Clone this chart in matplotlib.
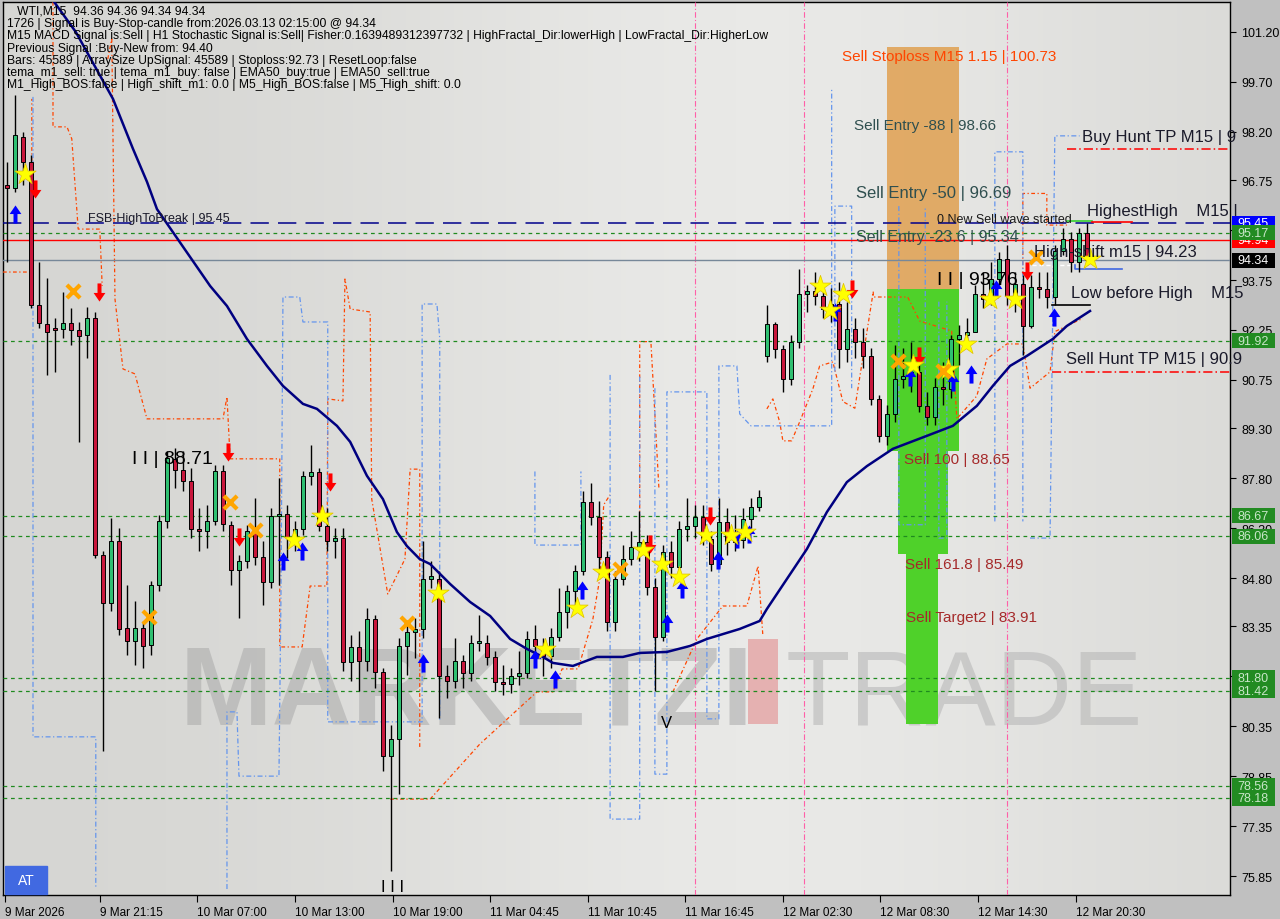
import numpy as np
import matplotlib
matplotlib.use("Agg")
import matplotlib.pyplot as plt
import matplotlib.transforms as mtransforms
from matplotlib.path import Path
from matplotlib.patches import Rectangle

# ---------------- data ----------------
# M15 candles (each entry = one drawn candle)
c_open = [96.6, 96.5, 98.05, 97.3, 93.0, 92.43, 92.3, 92.28, 92.45, 92.25, 92.1, 92.6, 85.5, 84.05, 85.9, 83.3,
          82.9, 83.3, 82.8, 84.6, 86.5, 88.38, 88.05, 87.7, 86.27, 86.2, 86.5, 88.0, 86.4, 85.05, 85.3, 86.2,
          85.43, 84.68, 86.66, 86.72, 86.03, 86.27, 87.86, 87.98, 86.36, 85.91, 86.0, 82.28, 82.73, 82.31, 83.57, 81.98,
          79.45, 79.96, 82.76, 83.18, 83.27, 84.77, 84.77, 81.86, 81.7, 82.31, 81.95, 82.85, 82.85, 82.43, 81.68, 81.62,
          81.86, 81.95, 82.97, 82.76, 82.46, 83.03, 83.78, 84.41, 85.01, 87.08, 86.63, 85.43, 83.48, 84.77, 85.37, 85.73,
          85.88, 84.53, 83.03, 85.58, 85.13, 86.27, 86.36, 86.63, 85.97, 85.22, 86.48, 85.88, 85.95, 86.57, 86.93, 91.47,
          92.43, 91.68, 90.78, 91.89, 93.33, 93.42, 93.27, 92.88, 93.03, 91.68, 92.28, 91.9, 91.47, 90.18, 89.07, 89.73,
          90.78, 90.87, 91.0, 89.97, 89.64, 90.54, 90.48, 91.98, 92.1, 92.2, 93.33, 93.18, 93.78, 94.38, 93.27, 93.63,
          92.37, 93.54, 93.48, 93.24, 94.62, 94.98, 94.3, 95.15]
c_high = [97.3, 99.3, 98.2, 97.5, 94.3, 93.8, 92.6, 93.4, 92.9, 92.5, 92.95, 92.8, 85.6, 86.6, 86.3, 84.6,
          84.1, 83.5, 84.7, 86.7, 88.6, 88.71, 88.6, 88.1, 86.9, 87.0, 88.2, 88.2, 86.5, 85.5, 86.4, 87.2,
          85.9, 86.9, 87.8, 87.0, 86.5, 88.0, 88.8, 88.1, 86.9, 86.3, 86.3, 83.1, 83.2, 83.9, 83.7, 82.1,
          80.4, 83.0, 83.5, 83.6, 85.9, 85.3, 85.0, 82.2, 83.0, 82.5, 83.1, 83.7, 83.1, 82.6, 82.2, 82.1,
          82.6, 83.2, 83.4, 83.0, 83.3, 84.5, 84.6, 85.2, 87.4, 87.65, 87.1, 85.6, 85.0, 85.8, 86.2, 86.8,
          86.1, 84.8, 85.8, 85.9, 86.5, 87.2, 87.0, 87.0, 86.2, 87.2, 86.9, 86.7, 86.9, 87.2, 87.45, 93.0,
          92.5, 91.8, 92.1, 94.08, 93.6, 94.0, 93.4, 93.5, 93.7, 93.1, 92.6, 92.3, 91.7, 90.3, 90.0, 91.8,
          91.7, 91.9, 91.2, 90.4, 90.8, 91.3, 92.1, 92.4, 92.6, 93.6, 94.0, 94.3, 94.6, 94.8, 94.0, 93.9,
          93.9, 94.0, 94.0, 94.8, 95.3, 95.2, 95.3, 95.45]
c_low = [94.3, 96.4, 96.6, 92.9, 92.3, 90.9, 91.0, 92.0, 91.8, 88.9, 91.4, 85.4, 79.6, 83.8, 83.1, 82.5,
         82.2, 82.1, 82.5, 84.4, 86.3, 87.5, 87.4, 86.0, 85.6, 85.7, 86.4, 86.2, 84.6, 83.6, 85.1, 85.2,
         84.0, 84.5, 84.6, 85.4, 85.6, 86.1, 87.6, 86.2, 85.6, 85.4, 82.0, 81.7, 81.4, 82.0, 81.5, 79.0,
         76.0, 78.3, 81.9, 82.4, 83.0, 84.5, 80.6, 81.2, 81.5, 81.5, 81.7, 82.6, 82.2, 81.4, 81.3, 81.35,
         81.6, 81.8, 82.4, 81.85, 82.1, 82.9, 83.3, 83.8, 84.9, 86.4, 84.9, 83.2, 83.2, 84.6, 85.2, 85.3,
         84.3, 81.4, 82.9, 84.8, 84.8, 85.9, 86.0, 85.8, 85.0, 85.1, 85.5, 85.6, 85.7, 86.3, 86.8, 91.3,
         91.4, 90.4, 90.6, 91.7, 92.8, 93.0, 92.6, 92.5, 91.1, 91.3, 91.4, 91.1, 90.0, 88.9, 88.8, 89.5,
         90.5, 90.4, 89.8, 89.4, 89.4, 90.0, 90.2, 91.2, 91.8, 92.2, 92.9, 93.0, 93.6, 93.0, 92.8, 91.5,
         92.3, 93.2, 92.9, 93.0, 94.5, 94.0, 94.0, 94.2]
c_close = [96.5, 98.1, 97.3, 93.0, 92.45, 92.2, 92.25, 92.45, 92.25, 92.07, 92.6, 85.5, 84.05, 85.9, 83.27, 82.9,
           83.3, 82.75, 84.6, 86.5, 88.4, 88.05, 87.7, 86.27, 86.2, 86.5, 88.0, 86.42, 85.05, 85.3, 86.2, 85.43,
           84.68, 86.66, 86.72, 86.03, 86.27, 87.86, 87.98, 86.36, 85.91, 86.0, 82.28, 82.73, 82.31, 83.57, 81.98, 79.45,
           79.96, 82.76, 83.18, 83.27, 84.77, 84.85, 81.86, 81.7, 82.31, 81.95, 82.85, 82.9, 82.43, 81.68, 81.62, 81.86,
           81.95, 82.97, 82.76, 82.46, 83.03, 83.78, 84.41, 85.01, 87.08, 86.63, 85.43, 83.48, 84.77, 85.37, 85.73, 85.88,
           84.53, 83.03, 85.58, 85.13, 86.27, 86.36, 86.63, 85.97, 85.22, 86.48, 85.88, 85.95, 86.57, 86.93, 87.23, 92.43,
           91.68, 90.78, 91.89, 93.33, 93.42, 93.27, 92.88, 93.03, 91.68, 92.28, 91.9, 91.47, 90.18, 89.07, 89.73, 90.78,
           90.87, 91.0, 89.97, 89.64, 90.54, 90.48, 91.98, 92.1, 92.2, 93.33, 93.18, 93.78, 94.38, 93.27, 93.63, 92.37,
           93.54, 93.48, 93.24, 94.62, 94.98, 94.3, 95.15, 94.34]

# EMA50 (bar index, price)
ema_idx = [5, 8.6, 13.25, 15.75, 17.5, 18.75, 21.6, 25.4, 27.5, 30, 32.5, 34.5, 37, 38.75, 41.25, 42.9, 45, 47,
           48.75, 50, 51.6, 52.9, 55.4, 57.9, 60.4, 62.9, 65, 67, 68.25, 70.75, 73.75, 77, 79.1, 82.5, 85.4, 87.5,
           91.6, 94.1, 95, 97.5, 100, 102.5, 105, 107.5, 110.75, 115, 118.25, 121.25, 123.25, 125.4, 127.5, 130.75,
           132.5, 135.4]
ema_val = [102.4, 101.2, 99.19, 97.69, 96.7, 95.88, 94.89, 93.57, 92.97, 91.98, 91.17, 90.57, 90.03, 89.88, 89.37,
           88.89, 87.87, 87.17, 86.18, 85.76, 85.37, 85.22, 84.62, 84.08, 83.66, 82.97, 82.67, 82.43, 82.25, 82.16,
           82.43, 82.43, 82.55, 82.58, 82.76, 82.97, 83.27, 83.51, 83.87, 84.77, 85.67, 86.78, 87.68, 88.16, 88.68,
           89.07, 89.37, 89.97, 90.57, 91.17, 91.47, 91.98, 92.37, 92.82]

# fractal channel step lines (bar index, price), nan = break
orange_idx = [-0.5, 3.1, 3.1, np.nan,
              5.75, 5.75, 7.5, 8.1, 8.5, 8.9, 11.6, 11.9, np.nan,
              12.6, 13.1, 13.5, 14.5, 16, 17.5, 27, 27.5, 27.9, 34.1, 34.1, 36.9, 37.9, 40, 40.1, 42, 42.25, 42.9,
              45.4, 45.6, 47.6, 49.75, 50.4, 51.6, 51.6, np.nan,
              47.9, 52.9, 59.1, 66.25, 68.25, 69.4, 71.4, 73.25, 74.1, 74.6, 75.4, np.nan,
              79.1, 79.1, 80.5, 81.5, np.nan,
              83.25, 86.25, 89.5, 92.5, 93.9, 94.5, np.nan,
              95, 95.75, 96.6, 97, 98.1, 99.1, 100.75, 101.6, 103.25, 104.5, 106, 108.3, np.nan,
              108.3, 108.3, 112.6, 114.1, 118.1, 118.75, 121.25, 122.5, 125, 127, 127.9, 130.4, 131, 134.5, np.nan,
              127.0, 127.0, 130.0, 130.0, 132.5]
orange_val = [93.99, 93.99, 99.19, np.nan,
              102.1, 98.35, 98.35, 97.99, 96.63, 95.28, 95.28, 93.57, np.nan,
              100.39, 100.99, 93.18, 91.08, 90.93, 89.58, 89.58, 90.24, 88.38, 88.38, 82.73, 82.73, 84.56, 84.56, 90.18,
              90.12, 93.78, 92.88, 92.79, 87.17, 84.32, 85.37, 88.07, 88.07, 79.66, np.nan,
              78.16, 78.16, 79.81, 81.38, 81.38, 82.07, 82.07, 83.57, 84.77, 87.0, 87.3, np.nan,
              86.0, 91.9, 91.9, 87.5, np.nan,
              81.38, 82.97, 83.96, 83.96, 85.16, 83.06, np.nan,
              89.88, 90.18, 89.49, 88.92, 88.92, 89.49, 90.48, 91.17, 91.29, 90.1, 89.9, 93.4, np.nan,
              93.4, 93.24, 93.24, 92.52, 92.22, 89.58, 90.27, 91.38, 91.83, 91.83, 90.5, 90.99, 92.2, 92.6, np.nan,
              93.9, 96.35, 96.35, 95.4, 95.4]
blue_idx = [3.25, 3.25, 11.1, 11.1, np.nan,
            27.5, 27.5, 28.75, 29, 34, 34.25, 34.5, 36.6, 37, 40.1, 40.1, 51.9, 51.9, 53.75, 54.1, 54.1, np.nan,
            66, 66, 71.75, 71.75, np.nan,
            75.4, 75.4, 79.1, 79.1, np.nan,
            81, 81, 82.5, 82.5, 87.5, 87.5, 89, 89, 91.25, 91.6, 93, 103.1, 103.1, np.nan,
            103.5, 103.5, 105.6, 105.6, np.nan,
            111.5, 111.5, 114.8, 114.8, np.nan,
            116.5, 116.5, 117.5, 117.5, np.nan,
            123.5, 123.5, 127, 127, np.nan,
            127.9, 130.4, 131, 131, 134.1]
blue_val = [99.25, 80.03, 80.03, 75.46, np.nan,
            75.46, 80.78, 80.78, 78.85, 78.85, 84.26, 93.24, 93.24, 92.49, 92.49, 80.48, 80.48, 93.03, 93.03, 92.0,
            80.5, np.nan,
            88.0, 85.79, 85.79, 88.0, np.nan,
            90.9, 77.56, 77.56, 90.9, np.nan,
            90.5, 78.91, 78.91, 90.39, 90.39, 80.57, 80.57, 91.17, 91.17, 89.73, 89.37, 89.37, 99.5, np.nan,
            91.0, 95.97, 95.97, 90.5, np.nan,
            95.97, 86.4, 86.4, 95.97, np.nan,
            93.1, 86.0, 86.0, 93.1, np.nan,
            86.5, 97.6, 97.6, 86.5, np.nan,
            86.0, 86.0, 98.08, 98.08, 98.08]

# signal markers (bar index, price)
up_idx = [1.0, 34.5, 36.9, 52.0, 66.0, 68.5, 71.9, 82.5, 84.4, 88.9, 91.25, 92.75, 103.5, 112.9, 118.25, 120.5,
          123.6, 130.9]
up_val = [95.73, 85.31, 85.61, 82.25, 82.37, 81.77, 84.44, 83.45, 84.47, 85.34, 85.97, 86.12, 92.8, 90.84, 90.69,
          90.93, 93.48, 92.64]
dn_idx = [3.5, 11.5, 27.6, 29.0, 40.4, 80.4, 87.9, 105.6, 114.0, 127.5]
dn_val = [96.48, 93.39, 88.58, 86.03, 87.68, 85.82, 86.66, 93.48, 91.47, 94.02]
star_idx = [2.25, 35.9, 39.4, 53.9, 67.25, 71.25, 74.5, 79.5, 81.9, 84.0, 87.4, 90.5, 92.25, 101.6, 102.9, 104.5,
            113.25, 117.6, 119.9, 122.9, 126, 135.4]
star_val = [96.94, 85.94, 86.66, 84.35, 82.67, 83.9, 84.98, 85.64, 85.22, 84.83, 86.09, 86.09, 86.18, 93.57, 92.85,
            93.33, 91.2, 91.08, 91.83, 93.18, 93.18, 94.38]
x_idx = [8.25, 27.9, 31.0, 17.75, 50.0, 76.6, 128.6, 111.4, 117.0]
x_val = [93.42, 87.08, 86.24, 83.63, 83.45, 85.07, 94.44, 91.32, 91.02]

# levels
green_levels = [95.17, 91.92, 86.67, 86.06, 81.80, 81.42, 78.56, 78.18]
price_ticks = [101.20, 99.70, 98.20, 96.75, 95.25, 93.75, 92.25, 90.75, 89.30, 87.80, 86.30, 84.80, 83.35,
               81.85, 80.35, 78.85, 77.35, 75.85]
time_pos = [-0.25, 11.6, 23.75, 36, 48.25, 60.4, 72.6, 84.75, 97, 109.1, 121.4, 133.6]
time_labels = ["9 Mar 2026", "9 Mar 21:15", "10 Mar 07:00", "10 Mar 13:00", "10 Mar 19:00", "11 Mar 04:45",
               "11 Mar 10:45", "11 Mar 16:45", "12 Mar 02:30", "12 Mar 08:30", "12 Mar 14:30", "12 Mar 20:30"]
pink_vlines = [86, 99.6, 125]

info_lines = [
    "   WTI,M15  94.36 94.36 94.34 94.34",
    "1726 | Signal is Buy-Stop-candle from:2026.03.13 02:15:00 @ 94.34",
    "M15 MACD Signal is:Sell | H1 Stochastic Signal is:Sell| Fisher:0.1639489312397732 | HighFractal_Dir:lowerHigh | LowFractal_Dir:HigherLow",
    "Previous Signal :Buy-New from: 94.40",
    "Bars: 45589 | ArraySize UpSignal: 45589 | Stoploss:92.73 | ResetLoop:false",
    "tema_m1_sell: true | tema_m1_buy: false | EMA50_buy:true | EMA50_sell:true",
    "M1_High_BOS:false | High_shift_m1: 0.0 | M5_High_BOS:false | M5_High_shift: 0.0",
]

# ---------------- figure ----------------
W, H = 1280, 920
fig = plt.figure(figsize=(12.8, 9.2), dpi=100)
fig.patch.set_facecolor("#c0c0c0")
ax = fig.add_axes([3 / W, 24 / H, 1227 / W, 893 / H])
ax.set_facecolor("#dcdcd9")
ax.set_xlim(-0.5, 152.9)
ax.set_ylim(75.28, 102.10)
font = "Liberation Sans"

# light gradient in the background
grad = np.linspace(0, 1, 256)
gx = np.exp(-((grad - 0.62) / 0.35) ** 2)
ax.imshow(np.tile(gx, (2, 1)), extent=[-0.5, 152.9, 75.28, 102.10], aspect="auto",
          cmap=matplotlib.colors.LinearSegmentedColormap.from_list("bg", ["#d6d6d3", "#e9e9e7"]),
          zorder=0, alpha=1)

# watermark
ax.text(21.6, 80.42, "MARKETZI", fontsize=80, fontweight="bold", family=font, color="#a9a9a9",
        alpha=0.55, va="baseline", ha="left", zorder=1)
ax.add_patch(Rectangle((92.6, 80.42), 3.8, 2.55, color="#e49a9a", alpha=0.7, zorder=1, lw=0))
ax.text(97.3, 80.42, "TRADE", fontsize=76, family=font, color="#b8b8b8", alpha=0.6,
        va="baseline", ha="left", zorder=1)

# zones
ax.add_patch(Rectangle((110, 93.48), 9, 100.75 - 93.48, color="#e0a050", alpha=0.85, lw=0, zorder=2))
ax.add_patch(Rectangle((110, 88.62), 9, 93.48 - 88.62, color="#4fd12a", lw=0, zorder=2))
ax.add_patch(Rectangle((111.4, 85.52), 6.2, 88.62 - 85.52, color="#4fd12a", lw=0, zorder=2))
ax.add_patch(Rectangle((112.4, 80.42), 4.0, 85.52 - 80.42, color="#4fd12a", lw=0, zorder=2))

# vertical dashed lines
for v in pink_vlines:
    ax.axvline(v, color="#ff5fa8", lw=0.8, dashes=(5, 2, 1, 2), zorder=3)

# indicator step lines
ax.plot(orange_idx, orange_val, color="#ff4500", lw=0.9, dashes=(3, 2, 1, 2), zorder=3)
ax.plot(blue_idx, blue_val, color="#6495ed", lw=0.9, dashes=(4, 2, 1, 2), zorder=3)

# horizontal levels
for g in green_levels:
    ax.axhline(g, color="#1f8a1f", lw=0.9, dashes=(3, 3), zorder=3)
ax.axhline(95.45, color="#00008b", lw=1.1, dashes=(12, 6), zorder=3)
ax.axhline(94.94, color="#ff0000", lw=1.0, zorder=3)
ax.axhline(94.34, color="#778899", lw=1.0, zorder=3)

# candles
n = len(c_close)
idx = np.arange(n)
o = np.array(c_open); c = np.array(c_close); hi = np.array(c_high); lo = np.array(c_low)
up = c >= o
ax.vlines(idx, lo, hi, color="black", lw=1.0, zorder=4)
body_lo = np.minimum(o, c)
body_h = np.maximum(np.abs(c - o), 0.04)
ax.bar(idx[up], body_h[up], bottom=body_lo[up], width=0.5, color="#2fbf71", edgecolor="black", lw=0.7, zorder=5)
ax.bar(idx[~up], body_h[~up], bottom=body_lo[~up], width=0.5, color="#c8173c", edgecolor="black", lw=0.7, zorder=5)

# EMA
ax.plot(ema_idx, ema_val, color="#000080", lw=1.8, zorder=6)

# markers
arrow = Path([(-0.22, -1), (0.22, -1), (0.22, 0.05), (0.65, 0.05), (0, 1), (-0.65, 0.05), (-0.22, 0.05), (-0.22, -1)])
arrow_dn = Path([(x, -y) for x, y in arrow.vertices])
ax.scatter(up_idx, up_val, marker=arrow, s=170, color="#0000ff", zorder=7, lw=0)
ax.scatter(dn_idx, dn_val, marker=arrow_dn, s=170, color="#ff0000", zorder=7, lw=0)
ax.scatter(star_idx, star_val, marker="*", s=260, color="#ffff00", edgecolor="#e0c000", lw=0.5, zorder=7)
ax.scatter(x_idx, x_val, marker="x", s=90, color="#ffa500", lw=3, zorder=7)

# labels on chart
def t(xi, p, s, size=9, color="black", **kw):
    ax.text(xi, p, s, fontsize=size, color=color, family=font, va="center", ha="left", zorder=8, **kw)

t(10.1, 95.62, "FSB-HighToBreak | 95.45", 9, "#1a1a2a")
t(15.6, 88.4, "I I | 88.71", 14)
t(104.4, 100.48, "Sell Stoploss M15 1.15 | 100.73", 11, "#ff4500")
t(105.9, 98.41, "Sell Entry -88 | 98.66", 11, "#2f4f4f")
t(106.1, 96.39, "Sell Entry -50 | 96.69", 12, "#2f4f4f")
t(106.1, 95.07, "Sell Entry -23.6 | 95.34", 11.5, "#2f4f4f")
t(116.3, 95.58, "0 New Sell wave started", 9, "#1a1a1a")
t(116.3, 93.78, "I I | 93.76", 14)
t(112.2, 88.38, "Sell 100 | 88.65", 11, "#a52a2a")
t(112.3, 85.22, "Sell 161.8 | 85.49", 11, "#a52a2a")
t(112.4, 83.63, "Sell Target2 | 83.91", 11, "#a52a2a")
t(134.4, 98.05, "Buy Hunt TP M15 | 9", 12, "#1a1a2a")
t(135.0, 95.85, "HighestHigh    M15 |", 12, "#1a1a2a")
t(128.4, 94.6, "High-shift m15 | 94.23", 12, "#1a1a2a")
t(133.0, 93.38, "Low before High    M15", 12, "#1a1a2a")
t(132.4, 91.38, "Sell Hunt TP M15 | 90.9", 12, "#1a1a2a")
t(81.8, 80.45, "V", 12)
t(46.8, 75.55, "I I I", 12)

# small level segments at the right
ax.plot([132.5, 152.9], [97.69, 97.69], color="#ff0000", lw=1.1, dashes=(6, 2, 1, 2), zorder=3)
ax.plot([130.6, 152.9], [90.99, 90.99], color="#ff0000", lw=1.1, dashes=(6, 2, 1, 2), zorder=3)
ax.plot([132.5, 135.6], [95.52, 95.52], color="#32cd32", lw=1.2, zorder=3)
ax.plot([135.6, 140.6], [95.5, 95.5], color="#ff0000", lw=1.2, zorder=3)
ax.plot([128.2, 133.4], [94.21, 94.21], color="white", lw=1.0, dashes=(3, 2), zorder=3)
ax.plot([133.5, 133.5, 139.4], [94.21, 94.08, 94.08], color="#4169e1", lw=1.2, zorder=3)
ax.plot([130.6, 135.4], [93.0, 93.0], color="black", lw=1.2, zorder=6)

# axes styling
for sp in ax.spines.values():
    sp.set_color("black")
    sp.set_linewidth(1.0)
ax.yaxis.tick_right()
ax.set_yticks(price_ticks)
ax.set_yticklabels(["%.2f" % v for v in price_ticks])
ax.set_xticks(time_pos)
ax.set_xticklabels(time_labels, ha="left")
ax.tick_params(axis="y", direction="out", length=4, pad=4, labelsize=9, colors="black")
ax.tick_params(axis="x", direction="out", length=5, pad=3, labelsize=8.5, colors="black")
for lb in ax.get_xticklabels() + ax.get_yticklabels():
    lb.set_family(font)

# price boxes on the right axis
trans = mtransforms.blended_transform_factory(ax.transAxes, ax.transData)
box_w = 43 / 1227
box_h = 15 / 33.294
boxes = [(95.45, "#0000ff", "white"), (94.94, "#ff0000", "white"), (95.17, "#228b22", "#c8e6c8"),
         (94.34, "black", "white"), (91.92, "#228b22", "#c8e6c8"), (86.67, "#228b22", "#c8e6c8"),
         (86.06, "#228b22", "#c8e6c8"), (81.80, "#228b22", "#c8e6c8"), (81.42, "#228b22", "#c8e6c8"),
         (78.56, "#228b22", "#c8e6c8"), (78.18, "#228b22", "#c8e6c8")]
for k, (p, fc, tc) in enumerate(boxes):
    ax.add_patch(Rectangle((1.0015, p - box_h / 2), box_w, box_h, transform=trans, fc=fc, ec="none",
                           zorder=10 + k, clip_on=False))
    ax.text(1.0015 + box_w / 2, p, "%.2f" % p, transform=trans, fontsize=9, family=font, color=tc,
            va="center", ha="center", zorder=10 + k, clip_on=False)

# info text block
for i, line in enumerate(info_lines):
    fig.text(7 / W, 1 - (12 + 12.2 * i) / H, line, fontsize=8.7, family=font, color="black", va="center", ha="left")

# AT badge
fig.patches.append(Rectangle((5 / W, 25 / H), 42 / W, 28 / H, transform=fig.transFigure, color="#4169e1", zorder=20))
fig.text(26 / W, 39 / H, "AT", fontsize=10, family=font, color="white", ha="center", va="center", zorder=21)

fig.savefig("out.png", dpi=100, facecolor=fig.get_facecolor())
